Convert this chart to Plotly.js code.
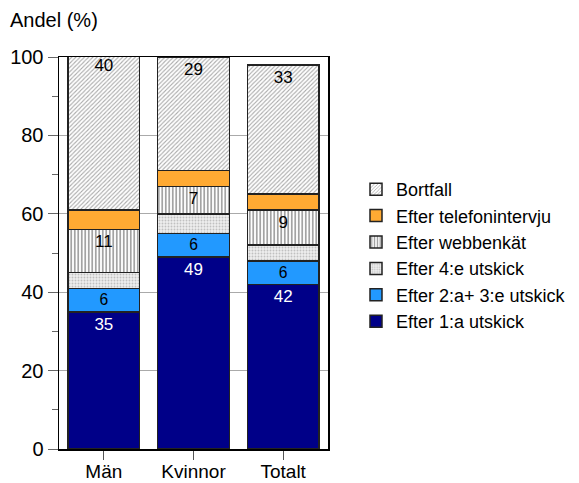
<!DOCTYPE html>
<html>
<head>
<meta charset="utf-8">
<script src="https://cdn.plot.ly/plotly-3.0.1.min.js"></script>
<style>html,body{margin:0;padding:0;background:#fff;}#chart{width:579px;height:483px;}</style>
</head>
<body>
<div id="chart"></div>
<script>
const categories = ["Män", "Kvinnor", "Totalt"];
const seriesNames = ["Efter 1:a utskick", "Efter 2:a+ 3:e utskick", "Efter 4:e utskick", "Efter webbenkät", "Efter telefonintervju", "Bortfall"];
const v1a = [35, 49, 42];
const v23e = [6, 6, 6];
const v4e = [4, 5, 4];
const vWebb = [11, 7, 9];
const vTel = [5, 4, 4];
const vBortfall = [40, 29, 33];
const showLabels = [true, true, false, true, false, true];
const yTicks = [0, 20, 40, 60, 80, 100];

const values = [v1a, v23e, v4e, vWebb, vTel, vBortfall];
const FONT = "Arial, 'Liberation Sans', sans-serif";
const styles = [
  {color: "#000088", textColor: "#ffffff"},
  {color: "#2299ff", textColor: "#000000"},
  {color: "#eeeeee", textColor: "#000000", pattern: {shape: ".", fgcolor: "#c0c0c0", bgcolor: "#eeeeee", size: 3, solidity: 0.3}},
  {color: "#ffffff", textColor: "#000000", pattern: {shape: "|", fgcolor: "#999999", bgcolor: "#ffffff", size: 3.5, solidity: 0.45}},
  {color: "#ffaa33", textColor: "#000000"},
  {color: "#ffffff", textColor: "#000000", pattern: {shape: "/", fgcolor: "#aaaaaa", bgcolor: "#ffffff", size: 3, solidity: 0.35}}
];

const traces = values.map((vals, i) => {
  const m = {color: styles[i].color, line: {color: "#222222", width: 1.5}};
  if (styles[i].pattern) m.pattern = styles[i].pattern;
  return {
    type: "bar",
    name: seriesNames[i],
    x: categories,
    y: vals,
    marker: m,
    text: showLabels[i] ? vals.map(String) : vals.map(() => ""),
    textposition: showLabels[i] ? "inside" : "none",
    insidetextanchor: "end",
    textangle: 0,
    insidetextfont: {family: FONT, size: 17, color: styles[i].textColor},
    hoverinfo: "name+y",
    cliponaxis: true
  };
});

const layout = {
  width: 579,
  height: 483,
  barmode: "stack",
  bargap: 0.2,
  paper_bgcolor: "#ffffff",
  plot_bgcolor: "#ffffff",
  font: {family: FONT, size: 20, color: "#000000"},
  margin: {l: 59, r: 251, t: 57, b: 34, pad: 0, autoexpand: false},
  title: {
    text: "Andel (%)",
    font: {family: FONT, size: 20, color: "#000000"},
    xref: "container", x: 10 / 579, xanchor: "left",
    yref: "container", y: 1 - 20 / 483, yanchor: "middle"
  },
  xaxis: {
    type: "category",
    automargin: false,
    showline: true, linecolor: "#000000", linewidth: 1.5,
    mirror: true,
    ticks: "outside", ticklen: 9, tickcolor: "#555555", tickwidth: 1,
    ticklabelstandoff: -4,
    tickfont: {family: FONT, size: 19, color: "#000000"},
    showgrid: false, zeroline: false
  },
  yaxis: {
    range: [0, 100],
    automargin: false,
    tickvals: yTicks,
    showline: true, linecolor: "#000000", linewidth: 1.5,
    mirror: true,
    ticks: "outside", ticklen: 10, tickcolor: "#666666", tickwidth: 1,
    tickfont: {family: FONT, size: 20, color: "#000000"},
    showgrid: true, gridcolor: "#aaaaaa", gridwidth: 1,
    zeroline: false,
    minor: {dtick: 10, ticks: "outside", ticklen: 6, tickcolor: "#666666", showgrid: false}
  },
  legend: {
    xref: "container", x: 356 / 579, xanchor: "left",
    yref: "container", y: 1 - 171 / 483, yanchor: "top",
    traceorder: "reversed",
    font: {family: FONT, size: 18, color: "#000000"},
    bgcolor: "rgba(0,0,0,0)",
    itemwidth: 30
  },
  showlegend: true
};

Plotly.newPlot("chart", traces, layout, {displayModeBar: false, staticPlot: true});
</script>
</body>
</html>
